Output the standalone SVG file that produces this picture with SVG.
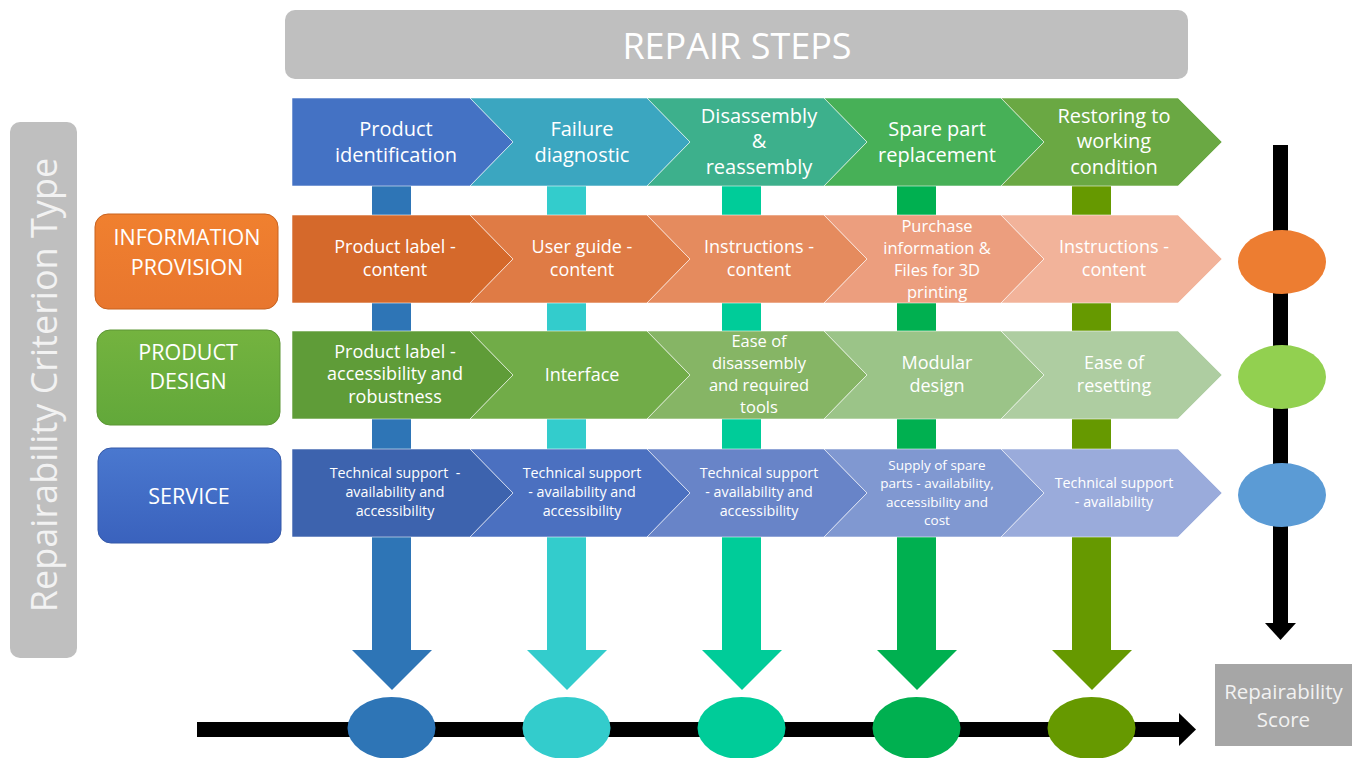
<svg xmlns="http://www.w3.org/2000/svg" width="1358" height="758" viewBox="0 0 1358 758">
<style>
text{font-family:"Open Sans","Liberation Sans",sans-serif;fill:#FFFFFF;text-anchor:middle}
.t1{font-size:20px}
.t2{font-size:18px}
.t3{font-size:16.5px}
.t4{font-size:14.3px}
.t5{font-size:13.5px}
.cat{font-size:21.5px}
.chev{stroke:#FFFFFF;stroke-opacity:0.55;stroke-width:1}
</style>
<defs>
<linearGradient id="gO" x1="0" y1="0" x2="0" y2="1"><stop offset="0" stop-color="#F0802F"/><stop offset="1" stop-color="#E8762E"/></linearGradient>
<linearGradient id="gG" x1="0" y1="0" x2="0" y2="1"><stop offset="0" stop-color="#74B33F"/><stop offset="1" stop-color="#62A83A"/></linearGradient>
<linearGradient id="gB" x1="0" y1="0" x2="0" y2="1"><stop offset="0" stop-color="#4A78CF"/><stop offset="1" stop-color="#3A62BD"/></linearGradient>
</defs>
<rect width="1358" height="758" fill="#FFFFFF"/>

<g id="header">
<rect x="285" y="10" width="903" height="69" rx="10" fill="#BFBFBF"/>
<text x="737" y="59" style="font-size:36px">REPAIR STEPS</text>
</g>

<g id="criterion-type">
<rect x="10" y="122" width="67" height="536" rx="10" fill="#BFBFBF"/>
<text transform="translate(57,385) rotate(-90)" style="font-size:36px;fill:#F2F2F2">Repairability Criterion Type</text>
</g>

<g id="connectors">
<rect x="372" y="186" width="39" height="465" fill="#2E75B6"/>
<polygon points="352,650 432,650 392,690" fill="#2E75B6"/>
<rect x="547" y="186" width="39" height="465" fill="#33CCCC"/>
<polygon points="527,650 607,650 567,690" fill="#33CCCC"/>
<rect x="722" y="186" width="39" height="465" fill="#00CC99"/>
<polygon points="702,650 782,650 742,690" fill="#00CC99"/>
<rect x="897" y="186" width="39" height="465" fill="#00B050"/>
<polygon points="877,650 957,650 917,690" fill="#00B050"/>
<rect x="1072" y="186" width="39" height="465" fill="#669900"/>
<polygon points="1052,650 1132,650 1092,690" fill="#669900"/>
<rect x="1273" y="145" width="15" height="479" fill="#000000"/>
<polygon points="1265,623 1296,623 1280.5,640" fill="#000000"/>
<rect x="197" y="722" width="983" height="15" fill="#000000"/>
<polygon points="1179,713 1196,729.5 1179,746" fill="#000000"/>
</g>

<g id="step-1">
<path class="chev" d="M292,98 H470 L513,142 L470,186 H292 Z" fill="#4472C4"/>
<text class="t1" x="396" y="136">Product</text>
<text class="t1" x="396" y="162">identification</text>
</g>
<g id="step-2">
<path class="chev" d="M470,98 H647 L690,142 L647,186 H470 L513,142 Z" fill="#3BA6C0"/>
<text class="t1" x="582" y="136">Failure</text>
<text class="t1" x="582" y="162">diagnostic</text>
</g>
<g id="step-3">
<path class="chev" d="M647,98 H824 L867,142 L824,186 H647 L690,142 Z" fill="#3DB08C"/>
<text class="t1" x="759" y="123">Disassembly</text>
<text class="t1" x="759" y="148">&amp;</text>
<text class="t1" x="759" y="174">reassembly</text>
</g>
<g id="step-4">
<path class="chev" d="M824,98 H1001 L1044,142 L1001,186 H824 L867,142 Z" fill="#47B057"/>
<text class="t1" x="937" y="136">Spare part</text>
<text class="t1" x="937" y="162">replacement</text>
</g>
<g id="step-5">
<path class="chev" d="M1001,98 H1178 L1222,142 L1178,186 H1001 L1044,142 Z" fill="#6AA843"/>
<text class="t1" x="1114" y="123">Restoring to</text>
<text class="t1" x="1114" y="148">working</text>
<text class="t1" x="1114" y="174">condition</text>
</g>

<g id="info-1">
<path class="chev" d="M292,215 H470 L513,259 L470,303 H292 Z" fill="#D5692B"/>
<text class="t2" x="395" y="253">Product label -</text>
<text class="t2" x="395" y="276">content</text>
</g>
<g id="info-2">
<path class="chev" d="M470,215 H647 L690,259 L647,303 H470 L513,259 Z" fill="#DF7B45"/>
<text class="t2" x="582" y="253">User guide -</text>
<text class="t2" x="582" y="276">content</text>
</g>
<g id="info-3">
<path class="chev" d="M647,215 H824 L867,259 L824,303 H647 L690,259 Z" fill="#E58B5E"/>
<text class="t2" x="759" y="253">Instructions -</text>
<text class="t2" x="759" y="276">content</text>
</g>
<g id="info-4">
<path class="chev" d="M824,215 H1001 L1044,259 L1001,303 H824 L867,259 Z" fill="#EC9E7E"/>
<text class="t3" x="937" y="232">Purchase</text>
<text class="t3" x="937" y="254">information &amp;</text>
<text class="t3" x="937" y="276">Files for 3D</text>
<text class="t3" x="937" y="298">printing</text>
</g>
<g id="info-5">
<path class="chev" d="M1001,215 H1178 L1222,259 L1178,303 H1001 L1044,259 Z" fill="#F2B39A"/>
<text class="t2" x="1114" y="253">Instructions -</text>
<text class="t2" x="1114" y="276">content</text>
</g>

<g id="design-1">
<path class="chev" d="M292,331 H470 L513,375 L470,419 H292 Z" fill="#5F9C38"/>
<text class="t2" x="395" y="358">Product label -</text>
<text class="t2" x="395" y="380">accessibility and</text>
<text class="t2" x="395" y="403">robustness</text>
</g>
<g id="design-2">
<path class="chev" d="M470,331 H647 L690,375 L647,419 H470 L513,375 Z" fill="#71AC48"/>
<text class="t2" x="582" y="381">Interface</text>
</g>
<g id="design-3">
<path class="chev" d="M647,331 H824 L867,375 L824,419 H647 L690,375 Z" fill="#86B565"/>
<text class="t3" x="759" y="347">Ease of</text>
<text class="t3" x="759" y="369">disassembly</text>
<text class="t3" x="759" y="391">and required</text>
<text class="t3" x="759" y="413">tools</text>
</g>
<g id="design-4">
<path class="chev" d="M824,331 H1001 L1044,375 L1001,419 H824 L867,375 Z" fill="#9BC488"/>
<text class="t2" x="937" y="369">Modular</text>
<text class="t2" x="937" y="392">design</text>
</g>
<g id="design-5">
<path class="chev" d="M1001,331 H1178 L1222,375 L1178,419 H1001 L1044,375 Z" fill="#AECDA1"/>
<text class="t2" x="1114" y="369">Ease of</text>
<text class="t2" x="1114" y="392">resetting</text>
</g>

<g id="service-1">
<path class="chev" d="M292,449 H470 L513,493 L470,537 H292 Z" fill="#3D63AE"/>
<text class="t4" x="395" y="478" xml:space="preserve">Technical support  -</text>
<text class="t4" x="395" y="497">availability and</text>
<text class="t4" x="395" y="516">accessibility</text>
</g>
<g id="service-2">
<path class="chev" d="M470,449 H647 L690,493 L647,537 H470 L513,493 Z" fill="#4B70C0"/>
<text class="t4" x="582" y="478">Technical support</text>
<text class="t4" x="582" y="497">- availability and</text>
<text class="t4" x="582" y="516">accessibility</text>
</g>
<g id="service-3">
<path class="chev" d="M647,449 H824 L867,493 L824,537 H647 L690,493 Z" fill="#6884C8"/>
<text class="t4" x="759" y="478">Technical support</text>
<text class="t4" x="759" y="497">- availability and</text>
<text class="t4" x="759" y="516">accessibility</text>
</g>
<g id="service-4">
<path class="chev" d="M824,449 H1001 L1044,493 L1001,537 H824 L867,493 Z" fill="#8098D1"/>
<text class="t5" x="937" y="470">Supply of spare</text>
<text class="t5" x="937" y="488">parts - availability,</text>
<text class="t5" x="937" y="507">accessibility and</text>
<text class="t5" x="937" y="525">cost</text>
</g>
<g id="service-5">
<path class="chev" d="M1001,449 H1178 L1222,493 L1178,537 H1001 L1044,493 Z" fill="#9AABDB"/>
<text class="t4" x="1114" y="488">Technical support</text>
<text class="t4" x="1114" y="507">- availability</text>
</g>

<g id="cat-information">
<rect x="95" y="214" width="183" height="95" rx="13" fill="url(#gO)" stroke="#C8621F" stroke-width="1"/>
<text class="cat" x="187" y="245">INFORMATION</text>
<text class="cat" x="187" y="275">PROVISION</text>
</g>
<g id="cat-design">
<rect x="97" y="330" width="183" height="95" rx="13" fill="url(#gG)" stroke="#5C9634" stroke-width="1"/>
<text class="cat" x="188" y="360">PRODUCT</text>
<text class="cat" x="188" y="389">DESIGN</text>
</g>
<g id="cat-service">
<rect x="98" y="448" width="183" height="95" rx="13" fill="url(#gB)" stroke="#3559A8" stroke-width="1"/>
<text class="cat" x="189" y="504">SERVICE</text>
</g>

<g id="score-info"><ellipse cx="1282" cy="262" rx="44" ry="32" fill="#ED7D31"/></g>
<g id="score-design"><ellipse cx="1282" cy="377" rx="44" ry="32" fill="#92D050"/></g>
<g id="score-service"><ellipse cx="1282" cy="495" rx="44" ry="32" fill="#5B9BD5"/></g>

<g id="score-step-1"><ellipse cx="391.5" cy="728" rx="44" ry="31" fill="#2E75B6"/></g>
<g id="score-step-2"><ellipse cx="566.5" cy="728" rx="44" ry="31" fill="#33CCCC"/></g>
<g id="score-step-3"><ellipse cx="741.5" cy="728" rx="44" ry="31" fill="#00CC99"/></g>
<g id="score-step-4"><ellipse cx="916.5" cy="728" rx="44" ry="31" fill="#00B050"/></g>
<g id="score-step-5"><ellipse cx="1091.5" cy="728" rx="44" ry="31" fill="#669900"/></g>

<g id="repairability-score">
<rect x="1215" y="664" width="137" height="82" fill="#A6A6A6"/>
<text x="1283.5" y="699" style="font-size:20.5px;fill:#F2F2F2">Repairability</text>
<text x="1283.5" y="727" style="font-size:20.5px;fill:#F2F2F2">Score</text>
</g>
</svg>
